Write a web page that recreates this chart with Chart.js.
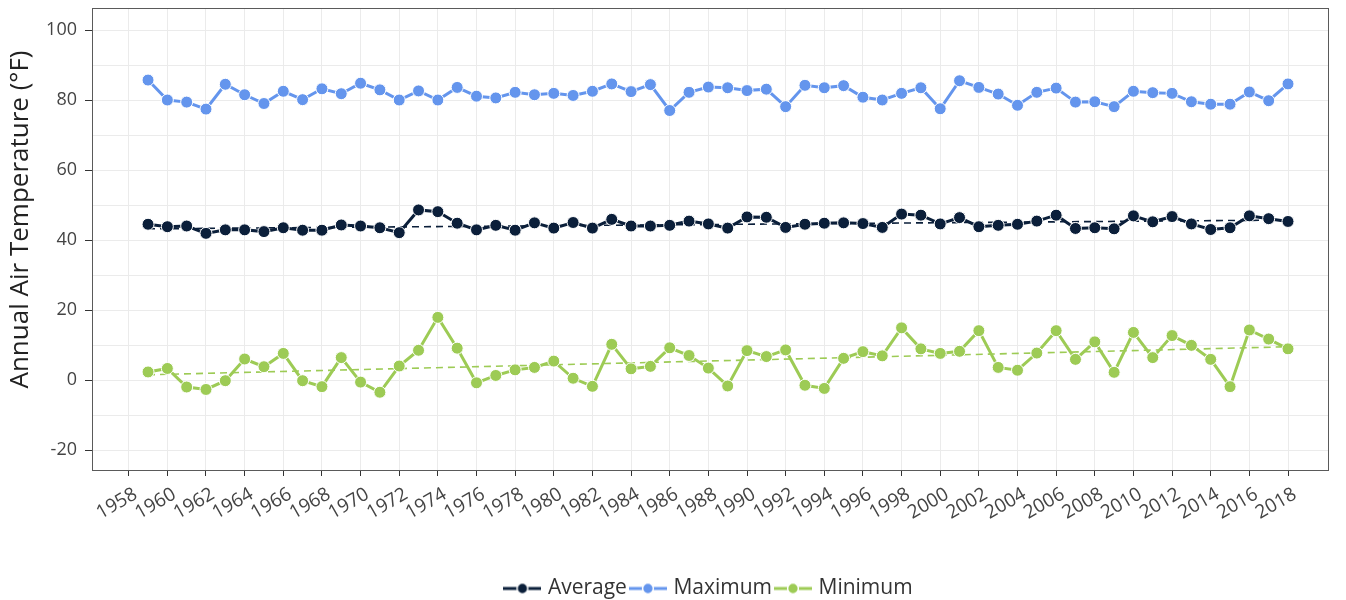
<!DOCTYPE html>
<html><head><meta charset="utf-8">
<script src="https://cdn.jsdelivr.net/npm/chart.js@4/dist/chart.umd.min.js"></script>
<style>html,body{margin:0;padding:0;background:#fff;overflow:hidden}</style>
</head><body>
<canvas id="c" width="1346" height="600"></canvas>
<script>
// ---- data ----
const years = [1959,1960,1961,1962,1963,1964,1965,1966,1967,1968,
  1969,1970,1971,1972,1973,1974,1975,1976,1977,1978,
  1979,1980,1981,1982,1983,1984,1985,1986,1987,1988,
  1989,1990,1991,1992,1993,1994,1995,1996,1997,1998,
  1999,2000,2001,2002,2003,2004,2005,2006,2007,2008,
  2009,2010,2011,2012,2013,2014,2015,2016,2017,2018];
const avgTemp = [44.5,43.8,44.0,41.9,42.9,42.9,42.4,43.5,42.8,42.8,
  44.3,44.0,43.5,42.1,48.6,48.1,44.8,42.9,44.2,42.8,
  44.9,43.4,45.0,43.4,45.9,44.0,44.0,44.2,45.4,44.6,
  43.4,46.6,46.5,43.6,44.5,44.8,44.9,44.7,43.6,47.4,
  47.1,44.6,46.4,43.8,44.2,44.5,45.4,47.1,43.3,43.5,
  43.2,46.9,45.2,46.7,44.6,43.0,43.5,46.9,46.1,45.3];
const maxTemp = [85.7,80.0,79.4,77.4,84.5,81.5,79.0,82.5,80.1,83.2,
  81.8,84.8,82.9,80.0,82.6,80.0,83.6,81.1,80.6,82.2,
  81.5,81.9,81.3,82.5,84.6,82.4,84.4,77.0,82.2,83.7,
  83.5,82.7,83.1,78.1,84.2,83.5,84.1,80.8,80.0,81.9,
  83.5,77.5,85.5,83.6,81.7,78.5,82.2,83.4,79.4,79.5,
  78.1,82.5,82.1,81.9,79.5,78.8,78.8,82.3,79.8,84.6];
const minTemp = [2.3,3.3,-2.0,-2.7,-0.2,6.0,3.8,7.6,-0.2,-1.9,
  6.4,-0.6,-3.5,4.0,8.5,17.9,9.1,-0.8,1.3,2.9,
  3.6,5.4,0.5,-1.8,10.2,3.2,3.9,9.2,7.0,3.4,
  -1.7,8.4,6.7,8.6,-1.5,-2.4,6.2,8.1,6.9,14.9,
  8.9,7.6,8.2,14.1,3.6,2.8,7.7,14.1,5.9,10.9,
  2.2,13.6,6.4,12.7,9.9,5.9,-1.9,14.3,11.7,8.9];
const trendYears = [1959, 2018];
const avgTrend = [43.2, 45.7];
const minTrend = [1.5, 9.5];
const xTicks = [1958,1960,1962,1964,1966,1968,1970,1972,1974,1976,1978,1980,1982,1984,1986,1988,1990,1992,1994,1996,1998,2000,2002,2004,2006,2008,2010,2012,2014,2016,2018];
const yGrid = [-20,-10,0,10,20,30,40,50,60,70,80,90,100];
const yLabels = [-20,0,20,40,60,80,100];
const seriesNames = ['Average','Maximum','Minimum'];
const colors = {Average:'#0b1f3a', Maximum:'#6495ed', Minimum:'#9dcb55'};

const FONT = "'Open Sans', 'DejaVu Sans', sans-serif";

function pts(xs, ys){ return xs.map((x,i)=>({x:x, y:ys[i]})); }

function legendIcon(color){
  const c = document.createElement('canvas');
  c.width = 38; c.height = 14;
  const g = c.getContext('2d');
  g.strokeStyle = color; g.lineWidth = 3;
  g.beginPath(); g.moveTo(0,7); g.lineTo(38,7); g.stroke();
  g.beginPath(); g.arc(19,7,5.4,0,Math.PI*2);
  g.fillStyle = color; g.fill();
  g.lineWidth = 1.5; g.strokeStyle = '#fff'; g.stroke();
  return c;
}
const icons = {};
seriesNames.forEach(n => icons[n] = legendIcon(colors[n]));

function seriesDS(name, vals){
  return {
    label: name, data: pts(years, vals), order: 1,
    borderColor: colors[name], backgroundColor: colors[name],
    borderWidth: 3, pointRadius: 6, pointHoverRadius: 6,
    pointBackgroundColor: colors[name], pointBorderColor: '#ffffff', pointBorderWidth: 1,
    tension: 0
  };
}
function trendDS(name, vals){
  return {
    label: name + ' trend', data: pts(trendYears, vals), order: 2,
    borderColor: colors[name], borderWidth: 1.6, borderDash: [7,5],
    pointRadius: 0, pointHoverRadius: 0, fill: false
  };
}

const PLOT_LEFT = 92, PLOT_BOTTOM = 470, PAD_BOTTOM = -9;
const LEG_FONT = 21, LEG_PAD = 6, LEG_H = LEG_FONT + LEG_PAD + 10;

const borderPlugin = {
  id: 'panelBorder',
  beforeDatasetsDraw(chart){
    const a = chart.chartArea, g = chart.ctx;
    g.save();
    g.strokeStyle = '#5a5a5a'; g.lineWidth = 1;
    g.strokeRect(Math.round(a.left)+0.5, Math.round(a.top)+0.5, Math.round(a.right-a.left), Math.round(a.bottom-a.top));
    g.restore();
  }
};

new Chart(document.getElementById('c'), {
  type: 'line',
  data: { datasets: [
    trendDS('Average', avgTrend),
    trendDS('Minimum', minTrend),
    seriesDS('Average', avgTemp),
    seriesDS('Maximum', maxTemp),
    seriesDS('Minimum', minTemp)
  ]},
  options: {
    responsive: false, animation: false,
    layout: { padding: { left: 0, right: 18, top: 8, bottom: PAD_BOTTOM } },
    plugins: {
      tooltip: { enabled: false },
      legend: {
        position: 'bottom', fullSize: false,
        labels: {
          usePointStyle: true, pointStyleWidth: 30, padding: LEG_PAD,
          color: '#333', font: { family: FONT, size: LEG_FONT },
          generateLabels(chart){
            return chart.data.datasets.map((ds,i)=>({ds,i})).filter(o=>seriesNames.includes(o.ds.label)).map(o=>({
              text: o.ds.label, datasetIndex: o.i, pointStyle: icons[o.ds.label],
              fillStyle: colors[o.ds.label], strokeStyle: colors[o.ds.label], lineWidth: 0, hidden: false, fontColor: '#333'
            }));
          }
        }
      }
    },
    scales: {
      x: {
        type: 'linear', min: 1956.1, max: 2020.07,
        afterBuildTicks(s){ s.ticks = xTicks.map(v=>({value:v})); },
        afterFit(s){ s.height = 600 - PAD_BOTTOM - LEG_H - PLOT_BOTTOM; s.paddingLeft = 0; s.paddingRight = 0; },
        grid: { color: '#ebebeb', lineWidth: 1, tickLength: 6, tickColor: '#333', drawTicks: true },
        border: { display: false },
        ticks: { autoSkip: false, minRotation: 30, maxRotation: 30, padding: 7, labelOffset: 7, color: '#444',
          font: { family: FONT, size: 19 }, callback: v => String(v) }
      },
      y: {
        type: 'linear', min: -25.71, max: 106.29,
        afterBuildTicks(s){ s.ticks = yGrid.map(v=>({value:v})); },
        afterFit(s){ s.width = PLOT_LEFT; s.paddingTop = 0; s.paddingBottom = 0; },
        grid: { color: '#ebebeb', lineWidth: 1, tickLength: 7,
          tickColor: (ctx) => (ctx.tick && yLabels.includes(ctx.tick.value)) ? '#333' : 'rgba(0,0,0,0)' },
        border: { display: false },
        title: { display: true, text: '\u2002\u2002\u2002Annual Air Temperature (°F)', color: '#222',
          font: { family: FONT, size: 26 }, padding: { top: 5, bottom: 0 } },
        ticks: { padding: 8, color: '#444', font: { family: FONT, size: 18 },
          callback: v => yLabels.includes(v) ? String(v) : '' }
      }
    }
  },
  plugins: [borderPlugin]
});
</script>
</body></html>
